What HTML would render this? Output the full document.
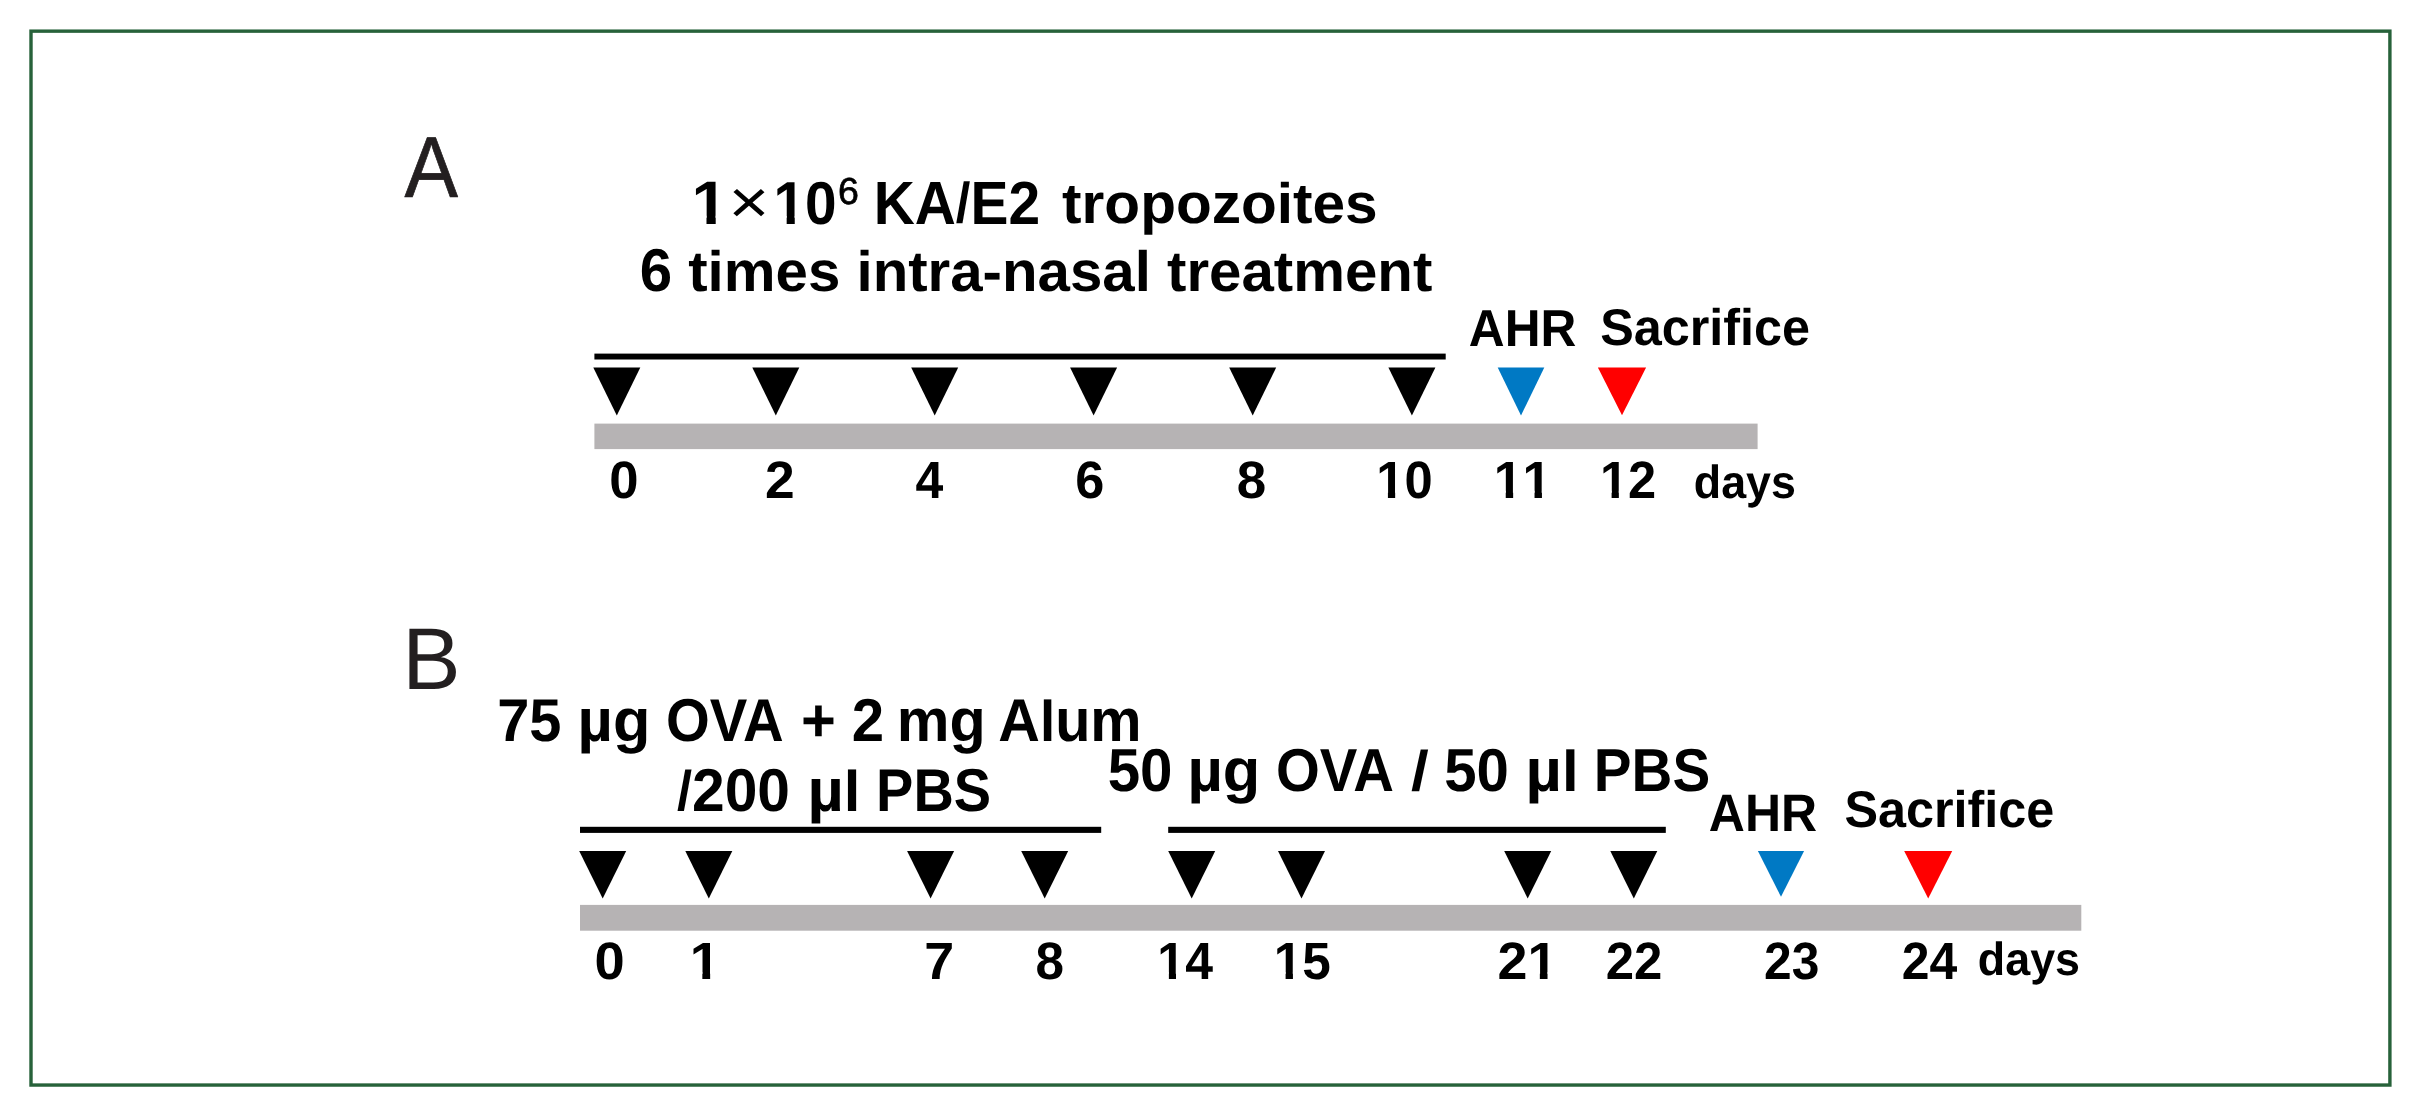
<!DOCTYPE html>
<html lang="en"><head><meta charset="utf-8"><title>Figure</title>
<style>
html,body{margin:0;padding:0;background:#fff;}
body{width:2422px;height:1117px;overflow:hidden;}
svg{display:block;filter:blur(0.35px);}
text{font-family:"Liberation Sans",Arial,Helvetica,sans-serif;white-space:pre;text-rendering:geometricPrecision;}
</style></head><body>
<svg width="2422" height="1117" viewBox="0 0 2422 1117">
<rect width="2422" height="1117" fill="#fff"/>
<g id="shapes">
<rect x="31.0" y="31.15" width="2358.9" height="1053.9" fill="none" stroke="#27623a" stroke-width="3.4"/>
<rect x="594.4" y="353.6" width="851.3" height="5.9" fill="#000"/>
<rect x="594.4" y="423.6" width="1163.2" height="25.5" fill="#b6b3b4"/>
<polygon points="593.3,367.6 640.3,367.6 616.8,415.5" fill="#000"/>
<polygon points="752.3,367.6 799.3,367.6 775.8,415.5" fill="#000"/>
<polygon points="911.2,367.6 958.2,367.6 934.7,415.5" fill="#000"/>
<polygon points="1070.1,367.6 1117.1,367.6 1093.6,415.5" fill="#000"/>
<polygon points="1229.2,367.6 1276.2,367.6 1252.7,415.5" fill="#000"/>
<polygon points="1388.4,367.6 1435.4,367.6 1411.9,415.5" fill="#000"/>
<polygon points="1497.7,367.4 1544.3,367.4 1521.0,415.5" fill="#0079c4"/>
<polygon points="1597.9,367.4 1646.1,367.4 1622.0,415.2" fill="#ff0000"/>
<rect x="580.0" y="826.8" width="521.2" height="6.1" fill="#000"/>
<rect x="1168.2" y="826.8" width="497.6" height="6.1" fill="#000"/>
<rect x="580.0" y="904.9" width="1501.3" height="25.8" fill="#b6b3b4"/>
<polygon points="579.2,851.1 626.2,851.1 602.7,898.6" fill="#000"/>
<polygon points="685.3,851.1 732.3,851.1 708.8,898.6" fill="#000"/>
<polygon points="907.1,851.1 954.1,851.1 930.6,898.6" fill="#000"/>
<polygon points="1021.2,851.1 1068.2,851.1 1044.7,898.6" fill="#000"/>
<polygon points="1168.2,851.1 1215.2,851.1 1191.7,898.6" fill="#000"/>
<polygon points="1278.0,851.1 1325.0,851.1 1301.5,898.6" fill="#000"/>
<polygon points="1504.2,851.1 1551.2,851.1 1527.7,898.6" fill="#000"/>
<polygon points="1610.3,851.1 1657.3,851.1 1633.8,898.6" fill="#000"/>
<polygon points="1757.9,851.1 1804.1,851.1 1781.0,896.8" fill="#0079c4"/>
<polygon points="1904.2,851.1 1952.2,851.1 1928.2,898.5" fill="#ff0000"/>
</g>
<text id="lA" transform="translate(404.40,196.87) scale(0.9291,1)" font-size="86.37" font-weight="400" fill="#231f20" stroke="#231f20" stroke-width="0.70" stroke-linejoin="round" xml:space="preserve">A</text>
<text id="lB" transform="translate(402.29,689.49) scale(0.9966,1)" font-size="87.71" font-weight="400" fill="#231f20" xml:space="preserve">B</text>
<clipPath id="c_t1"><path clip-rule="evenodd" d="M-50,-100H400V50H-50ZM2.70,-7.86H14.18V6H2.70ZM22.89,-7.86H33.57V6H22.89Z"/></clipPath>
<text id="t1" transform="translate(691.49,223.58) scale(1.0578,1)" font-size="61.38" font-weight="700" fill="#000" clip-path="url(#c_t1)" style="font-kerning:none" xml:space="preserve">1</text>
<text id="tx" transform="translate(728.58,222.71) scale(1.1418,1)" font-size="61.25" font-weight="400" fill="#000" xml:space="preserve">×</text>
<clipPath id="c_t10"><path clip-rule="evenodd" d="M-50,-100H400V50H-50ZM2.66,-7.79H13.99V6H2.66ZM22.62,-7.79H33.15V6H22.62Z"/></clipPath>
<text id="t10" transform="translate(773.57,223.88) scale(0.9361,1)" font-size="60.61" font-weight="700" fill="#000" clip-path="url(#c_t10)" style="font-kerning:none" xml:space="preserve">10</text>
<text id="t6" transform="translate(838.11,204.14) scale(1.0003,1)" font-size="37.57" font-weight="400" fill="#000" stroke="#000" stroke-width="0.70" stroke-linejoin="round" xml:space="preserve">6</text>
<text id="tka" transform="translate(873.70,223.60) scale(0.9325,1)" font-size="61.00" font-weight="700" fill="#000" xml:space="preserve">KA<tspan font-size="56.36" dy="-1.13">/</tspan><tspan dy="1.13">E2</tspan></text>
<text id="ttr" transform="translate(1062.05,222.87) scale(1.0310,1)" font-size="56.82" font-weight="700" fill="#000" xml:space="preserve">tropozoites</text>
<text id="t2" transform="translate(639.67,291.14) scale(1.0224,1)" font-size="56.94" font-weight="700" fill="#000" xml:space="preserve"><tspan font-size="60.36" textLength="31.67" lengthAdjust="spacingAndGlyphs">6</tspan> times intra-nasal treatment</text>
<text id="ahrA" transform="translate(1468.82,346.09) scale(0.9553,1)" font-size="51.95" font-weight="700" fill="#000" xml:space="preserve">AHR</text>
<text id="sacA" transform="translate(1600.17,345.10) scale(0.9761,1)" font-size="51.55" font-weight="700" fill="#000" xml:space="preserve">Sacrifice</text>
<text id="daysA" transform="translate(1693.82,498.09) scale(0.9634,1)" font-size="46.47" font-weight="700" fill="#000" xml:space="preserve">days</text>
<text id="b1" transform="translate(0,740.75)" font-size="60.47" font-weight="700" fill="#000" xml:space="preserve"><tspan id="b1_w0" x="497.21" y="0" textLength="64.25" lengthAdjust="spacingAndGlyphs">75</tspan> <tspan id="b1_w1" x="577.59" y="0" textLength="72.75" lengthAdjust="spacingAndGlyphs">µg</tspan> <tspan id="b1_w2" x="665.95" y="0" textLength="115.73" lengthAdjust="spacingAndGlyphs">OVA</tspan> <tspan id="b1_w3" x="801.12" y="0" textLength="34.87" lengthAdjust="spacingAndGlyphs">+</tspan> <tspan id="b1_w4" x="851.83" y="0" textLength="32.36" lengthAdjust="spacingAndGlyphs">2</tspan> <tspan id="b1_w5" x="896.77" y="0" textLength="88.95" lengthAdjust="spacingAndGlyphs">mg</tspan> <tspan id="b1_w6" x="998.31" y="0" textLength="143.23" lengthAdjust="spacingAndGlyphs">A<tspan font-size="57.45">l</tspan>um</tspan></text>
<text id="b2" transform="translate(0,811.00)" font-size="60.40" font-weight="700" fill="#000" xml:space="preserve"><tspan id="b2_w0" x="676.92" y="0" textLength="113.06" lengthAdjust="spacingAndGlyphs"><tspan font-size="55.81" dy="-1.12">/</tspan><tspan dy="1.12">200</tspan></tspan> <tspan id="b2_w1" x="807.54" y="0" textLength="52.94" lengthAdjust="spacingAndGlyphs">µ<tspan font-size="57.38">l</tspan></tspan> <tspan id="b2_w2" x="876.11" y="0" textLength="115.01" lengthAdjust="spacingAndGlyphs">PBS</tspan></text>
<text id="b3" transform="translate(0,791.00)" font-size="60.60" font-weight="700" fill="#000" xml:space="preserve"><tspan id="b3_w0" x="1107.63" y="0" textLength="64.84" lengthAdjust="spacingAndGlyphs">50</tspan> <tspan id="b3_w1" x="1187.52" y="0" textLength="72.85" lengthAdjust="spacingAndGlyphs">µg</tspan> <tspan id="b3_w2" x="1275.98" y="0" textLength="115.77" lengthAdjust="spacingAndGlyphs">OVA</tspan> <tspan id="b3_w3" x="1411.12" y="0" textLength="17.77" lengthAdjust="spacingAndGlyphs"><tspan font-size="55.99" dy="-1.12">/</tspan></tspan> <tspan id="b3_w4" x="1444.19" y="0" textLength="64.70" lengthAdjust="spacingAndGlyphs">50</tspan> <tspan id="b3_w5" x="1525.52" y="0" textLength="53.04" lengthAdjust="spacingAndGlyphs">µ<tspan font-size="57.57">l</tspan></tspan> <tspan id="b3_w6" x="1593.86" y="0" textLength="116.26" lengthAdjust="spacingAndGlyphs">PBS</tspan></text>
<text id="ahrB" transform="translate(1708.80,830.60) scale(0.9504,1)" font-size="52.59" font-weight="700" fill="#000" xml:space="preserve">AHR</text>
<text id="sacB" transform="translate(1844.42,826.70) scale(0.9792,1)" font-size="51.40" font-weight="700" fill="#000" xml:space="preserve">Sacrifice</text>
<text id="daysB" transform="translate(1977.85,974.85) scale(0.9647,1)" font-size="46.47" font-weight="700" fill="#000" xml:space="preserve">days</text>
<text id="dA0" transform="translate(609.15,497.80) scale(1.0031,1)" font-size="52.50" font-weight="700" fill="#000" xml:space="preserve">0</text>
<text id="dA1" transform="translate(764.95,497.80) scale(1.0169,1)" font-size="52.50" font-weight="700" fill="#000" xml:space="preserve">2</text>
<text id="dA2" transform="translate(915.43,497.80) scale(0.9508,1)" font-size="52.50" font-weight="700" fill="#000" xml:space="preserve">4</text>
<text id="dA3" transform="translate(1075.31,497.80) scale(0.9961,1)" font-size="52.50" font-weight="700" fill="#000" xml:space="preserve">6</text>
<text id="dA4" transform="translate(1236.82,497.80) scale(1.0085,1)" font-size="52.50" font-weight="700" fill="#000" xml:space="preserve">8</text>
<clipPath id="c_dA5"><path clip-rule="evenodd" d="M-50,-100H400V50H-50ZM2.31,-6.96H12.10V6H2.31ZM19.61,-6.96H28.71V6H19.61Z"/></clipPath>
<text id="dA5" transform="translate(1376.24,497.80) scale(0.9650,1)" font-size="52.50" font-weight="700" fill="#000" clip-path="url(#c_dA5)" style="font-kerning:none" xml:space="preserve">10</text>
<clipPath id="c_dA6"><path clip-rule="evenodd" d="M-50,-100H400V50H-50ZM2.31,-6.96H12.10V6H2.31ZM19.61,-6.96H28.71V6H19.61ZM31.51,-6.96H41.30V6H31.51ZM48.81,-6.96H57.91V6H48.81Z"/></clipPath>
<text id="dA6" transform="translate(1493.81,497.80) scale(0.9861,1)" font-size="52.50" font-weight="700" fill="#000" clip-path="url(#c_dA6)" style="font-kerning:none" xml:space="preserve">11</text>
<clipPath id="c_dA7"><path clip-rule="evenodd" d="M-50,-100H400V50H-50ZM2.31,-6.96H12.10V6H2.31ZM19.61,-6.96H28.71V6H19.61Z"/></clipPath>
<text id="dA7" transform="translate(1599.95,497.80) scale(0.9635,1)" font-size="52.50" font-weight="700" fill="#000" clip-path="url(#c_dA7)" style="font-kerning:none" xml:space="preserve">12</text>
<text id="dB0" transform="translate(594.53,979.10) scale(1.0341,1)" font-size="52.50" font-weight="700" fill="#000" xml:space="preserve">0</text>
<clipPath id="c_dB1"><path clip-rule="evenodd" d="M-50,-100H400V50H-50ZM2.31,-6.96H12.11V6H2.31ZM19.60,-6.96H28.71V6H19.60Z"/></clipPath>
<text id="dB1" transform="translate(689.74,979.10) scale(1.0412,1)" font-size="52.50" font-weight="700" fill="#000" clip-path="url(#c_dB1)" style="font-kerning:none" xml:space="preserve">1</text>
<text id="dB2" transform="translate(924.28,979.10) scale(1.0253,1)" font-size="52.50" font-weight="700" fill="#000" xml:space="preserve">7</text>
<text id="dB3" transform="translate(1035.42,979.10) scale(0.9761,1)" font-size="52.50" font-weight="700" fill="#000" xml:space="preserve">8</text>
<clipPath id="c_dB4"><path clip-rule="evenodd" d="M-50,-100H400V50H-50ZM2.31,-6.96H12.10V6H2.31ZM19.61,-6.96H28.71V6H19.61Z"/></clipPath>
<text id="dB4" transform="translate(1157.37,979.10) scale(0.9513,1)" font-size="52.50" font-weight="700" fill="#000" clip-path="url(#c_dB4)" style="font-kerning:none" xml:space="preserve">14</text>
<clipPath id="c_dB5"><path clip-rule="evenodd" d="M-50,-100H400V50H-50ZM2.31,-6.96H12.10V6H2.31ZM19.61,-6.96H28.71V6H19.61Z"/></clipPath>
<text id="dB5" transform="translate(1273.77,979.10) scale(0.9773,1)" font-size="52.50" font-weight="700" fill="#000" clip-path="url(#c_dB5)" style="font-kerning:none" xml:space="preserve">15</text>
<clipPath id="c_dB6"><path clip-rule="evenodd" d="M-50,-100H400V50H-50ZM31.51,-6.96H41.31V6H31.51ZM48.80,-6.96H57.91V6H48.80Z"/></clipPath>
<text id="dB6" transform="translate(1497.47,979.10) scale(1.0257,1)" font-size="52.50" font-weight="700" fill="#000" clip-path="url(#c_dB6)" style="font-kerning:none" xml:space="preserve">21</text>
<text id="dB7" transform="translate(1605.78,979.10) scale(0.9695,1)" font-size="52.50" font-weight="700" fill="#000" xml:space="preserve">22</text>
<text id="dB8" transform="translate(1764.11,979.10) scale(0.9477,1)" font-size="52.50" font-weight="700" fill="#000" xml:space="preserve">23</text>
<text id="dB9" transform="translate(1901.84,979.10) scale(0.9506,1)" font-size="52.50" font-weight="700" fill="#000" xml:space="preserve">24</text>
</svg>
</body></html>
